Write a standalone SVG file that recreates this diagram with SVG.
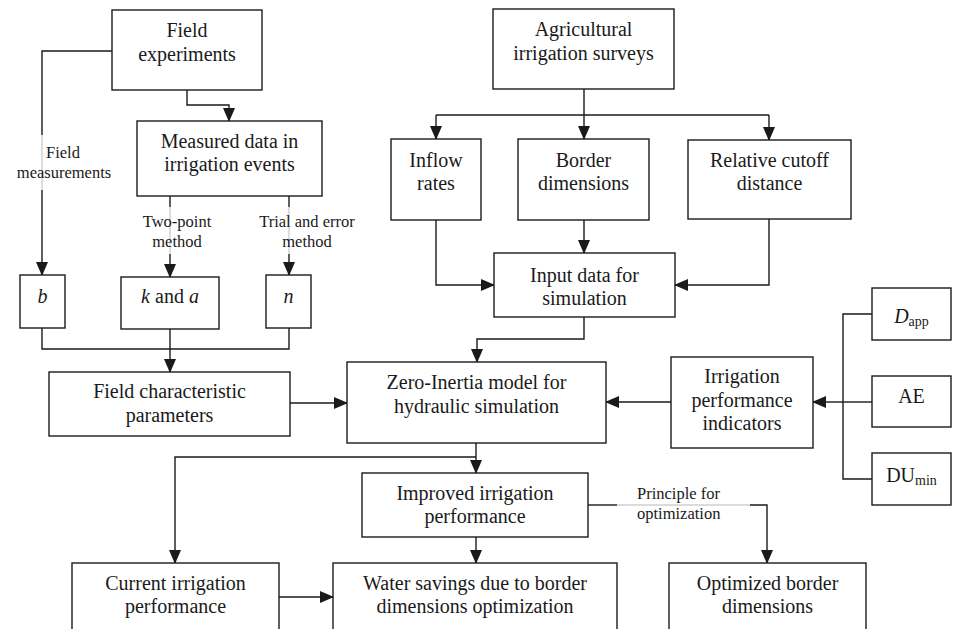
<svg xmlns="http://www.w3.org/2000/svg" width="955" height="629" viewBox="0 0 955 629">
<defs>
<marker id="ah" markerUnits="userSpaceOnUse" markerWidth="14" markerHeight="12" viewBox="0 0 14 12" refX="13" refY="6" orient="auto">
<path d="M0,0 L14,6 L0,12 Z" fill="#1a1a1a"/>
</marker>
<style>
.box{fill:#fff;stroke:#1a1a1a;stroke-width:1.4}
.t{font-family:"Liberation Serif","Times New Roman",serif;font-size:20px;fill:#1a1a1a;text-anchor:middle}
.lb{font-family:"Liberation Serif","Times New Roman",serif;font-size:16.5px;fill:#1a1a1a;text-anchor:middle}
.ln{fill:none;stroke:#1a1a1a;stroke-width:1.4}
.ar{fill:none;stroke:#1a1a1a;stroke-width:1.4;marker-end:url(#ah)}
.gr{fill:none;stroke:#cfcfcf;stroke-width:1.4}
.sub{font-size:14px}
</style>
</defs>
<rect width="955" height="629" fill="#fff"/>

<g id="connectors">
<!-- Field experiments -> b -->
<path class="ln" d="M112,51 H42 V135"/>
<path class="gr" d="M42,135 V190"/>
<path class="ar" d="M42,190 V275"/>
<!-- Field experiments -> Measured -->
<path class="ar" d="M187,90 V105 H229 V121"/>
<!-- Measured -> k and a -->
<path class="ln" d="M170,196 V207"/>
<path class="gr" d="M170,207 V254"/>
<path class="ar" d="M170,254 V277"/>
<!-- Measured -> n -->
<path class="ln" d="M289,196 V207"/>
<path class="gr" d="M289,207 V254"/>
<path class="ar" d="M289,254 V275"/>
<!-- b, n -> Field characteristic -->
<path class="ln" d="M42,328 V349 H289 V328"/>
<path class="ar" d="M170,329 V372"/>
<!-- Field char -> Zero-inertia -->
<path class="ar" d="M290,403 H347"/>
<!-- Agricultural -> three -->
<path class="ln" d="M584,89 V115"/>
<path class="ln" d="M436,115 H769"/>
<path class="ar" d="M436,115 V139"/>
<path class="ar" d="M584,115 V139"/>
<path class="ar" d="M769,115 V140"/>
<!-- to Input data -->
<path class="ar" d="M436,220 V285 H494"/>
<path class="ar" d="M584,220 V253"/>
<path class="ar" d="M769,219 V285 H675"/>
<!-- Input -> Zero-inertia -->
<path class="ar" d="M584,317 V339 H477 V362"/>
<!-- Irrigation indicators -> Zero-Inertia -->
<path class="ar" d="M671,402 H606"/>
<!-- D, AE, DU -> indicators -->
<path class="ln" d="M872,314 H843 V479 H872"/>
<path class="ln" d="M843,402 H872"/>
<path class="ar" d="M843,402 H813"/>
<!-- Zero-Inertia -> Improved, Current -->
<path class="ar" d="M476,443 V473"/>
<path class="ar" d="M476,457 H175 V563"/>
<!-- Improved -> Water savings -->
<path class="ar" d="M476,537 V563"/>
<!-- Improved -> Optimized -->
<path class="ln" d="M588,505 H617"/>
<path class="gr" d="M617,505 H750"/>
<path class="ar" d="M750,505 H767 V563"/>
<!-- Current -> Water savings -->
<path class="ar" d="M279,597 H333"/>
<!-- labels -->
<text class="lb" x="63" y="158">Field</text>
<text class="lb" x="64" y="178">measurements</text>
<text class="lb" x="177" y="227">Two-point</text>
<text class="lb" x="177" y="247">method</text>
<text class="lb" x="307" y="227">Trial and error</text>
<text class="lb" x="307" y="247">method</text>
<text class="lb" x="637" y="499" style="text-anchor:start">Principle for</text>
<text class="lb" x="637" y="519" style="text-anchor:start">optimization</text>
</g>

<g id="field-experiments">
<rect class="box" x="112" y="10" width="150" height="80"/>
<text class="t" x="187" y="37">Field</text>
<text class="t" x="187" y="61">experiments</text>
</g>
<g id="measured-data">
<rect class="box" x="137" y="121" width="185" height="75"/>
<text class="t" x="229.5" y="148">Measured data in</text>
<text class="t" x="229.5" y="171">irrigation events</text>
</g>
<g id="b">
<rect class="box" x="20" y="275" width="45" height="53"/>
<text class="t" x="42.5" y="303" font-style="italic">b</text>
</g>
<g id="k-and-a">
<rect class="box" x="121" y="277" width="98" height="52"/>
<text class="t" x="170" y="303"><tspan font-style="italic">k</tspan> and <tspan font-style="italic">a</tspan></text>
</g>
<g id="n">
<rect class="box" x="266" y="275" width="45" height="53"/>
<text class="t" x="288.5" y="303" font-style="italic">n</text>
</g>
<g id="field-characteristic">
<rect class="box" x="49" y="372" width="241" height="64"/>
<text class="t" x="169.5" y="398">Field characteristic</text>
<text class="t" x="169.5" y="422">parameters</text>
</g>
<g id="agricultural">
<rect class="box" x="493" y="9" width="181" height="80"/>
<text class="t" x="583.5" y="36">Agricultural</text>
<text class="t" x="583.5" y="60">irrigation surveys</text>
</g>
<g id="inflow-rates">
<rect class="box" x="391" y="139" width="90" height="81"/>
<text class="t" x="436" y="167">Inflow</text>
<text class="t" x="436" y="190">rates</text>
</g>
<g id="border-dimensions">
<rect class="box" x="518" y="139" width="131" height="81"/>
<text class="t" x="583.5" y="167">Border</text>
<text class="t" x="583.5" y="190">dimensions</text>
</g>
<g id="relative-cutoff">
<rect class="box" x="688" y="140" width="163" height="79"/>
<text class="t" x="769.5" y="167">Relative cutoff</text>
<text class="t" x="769.5" y="190">distance</text>
</g>
<g id="input-data">
<rect class="box" x="494" y="253" width="181" height="64"/>
<text class="t" x="584.5" y="282">Input data for</text>
<text class="t" x="584.5" y="305">simulation</text>
</g>
<g id="zero-inertia">
<rect class="box" x="347" y="362" width="259" height="81"/>
<text class="t" x="476.5" y="389">Zero-Inertia model for</text>
<text class="t" x="476.5" y="413">hydraulic simulation</text>
</g>
<g id="indicators">
<rect class="box" x="671" y="357" width="142" height="91"/>
<text class="t" x="742" y="383">Irrigation</text>
<text class="t" x="742" y="407">performance</text>
<text class="t" x="742" y="430">indicators</text>
</g>
<g id="dapp">
<rect class="box" x="872" y="288" width="79" height="52"/>
<text class="t" x="911.5" y="323"><tspan font-style="italic">D</tspan><tspan class="sub" dy="3">app</tspan></text>
</g>
<g id="ae">
<rect class="box" x="872" y="376" width="79" height="51"/>
<text class="t" x="911.5" y="403">AE</text>
</g>
<g id="dumin">
<rect class="box" x="872" y="453" width="79" height="52"/>
<text class="t" x="911.5" y="482">DU<tspan class="sub" dy="3">min</tspan></text>
</g>
<g id="improved">
<rect class="box" x="362" y="473" width="226" height="64"/>
<text class="t" x="475" y="500">Improved irrigation</text>
<text class="t" x="475" y="523">performance</text>
</g>
<g id="current">
<rect class="box" x="72" y="563" width="207" height="80"/>
<text class="t" x="175.5" y="590">Current irrigation</text>
<text class="t" x="175.5" y="613">performance</text>
</g>
<g id="water-savings">
<rect class="box" x="333" y="563" width="284" height="80"/>
<text class="t" x="475" y="590">Water savings due to border</text>
<text class="t" x="475" y="613">dimensions optimization</text>
</g>
<g id="optimized">
<rect class="box" x="669" y="563" width="197" height="80"/>
<text class="t" x="767.5" y="590">Optimized border</text>
<text class="t" x="767.5" y="613">dimensions</text>
</g>
</svg>
